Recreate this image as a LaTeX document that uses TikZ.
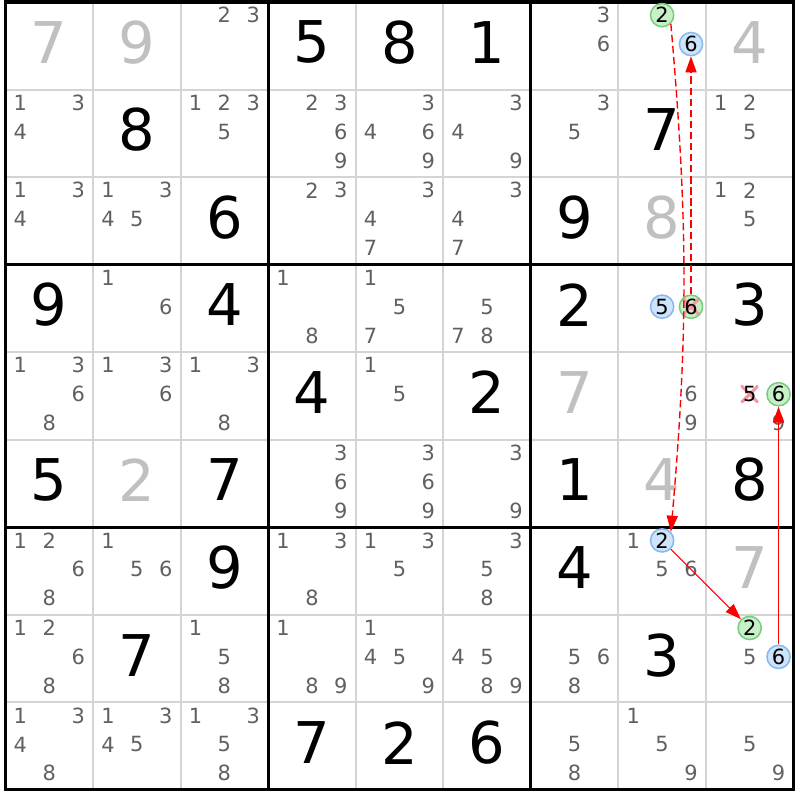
\documentclass[tikz,border=0pt]{standalone}
\usepackage{fontspec}
\setmainfont{DejaVu Sans}
\usetikzlibrary{arrows.meta}
\definecolor{candgray}{RGB}{96,96,96}
\definecolor{solvedgray}{RGB}{192,192,192}
\definecolor{gridgray}{RGB}{212,212,212}
\definecolor{greenfill}{RGB}{200,240,200}
\definecolor{greenline}{RGB}{120,205,125}
\definecolor{bluefill}{RGB}{205,228,250}
\definecolor{blueline}{RGB}{135,185,240}
\definecolor{xpink}{RGB}{245,150,160}
\begin{document}
\begin{tikzpicture}[>={Triangle[length=5.2pt,width=3.6pt]},
    given/.style={font=\fontsize{18.7}{20}\selectfont, inner sep=0pt},
    solved/.style={given, text=solvedgray},
    cand/.style={font=\fontsize{6.8}{7}\selectfont, text=candgray, inner sep=0pt},
    hl/.style={cand, text=black, circle, minimum size=0.265cm, line width=0.5pt},
    greencand/.style={hl, fill=greenfill, draw=greenline},
    bluecand/.style={hl, fill=bluefill, draw=blueline},
    struck/.style={path picture={\draw[xpink, line width=1pt]
        (path picture bounding box.south west) -- (path picture bounding box.north east)
        (path picture bounding box.north west) -- (path picture bounding box.south east);}},
    link/.style={red, line width=0.35pt, ->},
    weak/.style={link, line width=0.45pt, dash pattern=on 2.4pt off 1.2pt}]
\useasboundingbox (-0.063,0.023) rectangle (9.075,-9.115);
% cell lines
\foreach \i in {1,2,4,5,7,8} {
    \draw[gridgray, line width=0.65pt] (\i,0) -- (\i,-9);
    \draw[gridgray, line width=0.65pt] (0,-\i) -- (9,-\i);
}
% box lines
\foreach \i in {3,6} {
    \draw[line width=1pt] (\i,0) -- (\i,-9);
    \draw[line width=1pt] (0,-\i) -- (9,-\i);
}
\draw[line width=1pt] (0,0) rectangle (9,-9);
% givens
\foreach \r/\c/\d in {1/4/5,1/5/8,1/6/1,2/2/8,2/8/7,3/3/6,3/7/9,4/1/9,4/3/4,4/7/2,4/9/3,
    5/4/4,5/6/2,6/1/5,6/3/7,6/7/1,6/9/8,7/3/9,7/7/4,8/2/7,8/8/3,9/4/7,9/5/2,9/6/6}
    \node[given] (n\r\c) at (\c-0.5,0.54-\r) {\d};
% solved
\foreach \r/\c/\d in {1/1/7,1/2/9,1/9/4,3/8/8,5/7/7,6/2/2,6/8/4,7/9/7}
    \node[solved] (n\r\c) at (\c-0.5,0.54-\r) {\d};
% candidates
\foreach \r/\c/\ks in {1/3/{2,3},1/7/{3,6},2/1/{1,3,4},2/3/{1,2,3,5},2/4/{2,3,6,9},
    2/5/{3,4,6,9},2/6/{3,4,9},2/7/{3,5},2/9/{1,2,5},3/1/{1,3,4},3/2/{1,3,4,5},3/4/{2,3},
    3/5/{3,4,7},3/6/{3,4,7},3/9/{1,2,5},4/2/{1,6},4/4/{1,8},4/5/{1,5,7},4/6/{5,7,8},
    5/1/{1,3,6,8},5/2/{1,3,6},5/3/{1,3,8},5/5/{1,5},5/8/{6,9},5/9/{9},6/4/{3,6,9},
    6/5/{3,6,9},6/6/{3,9},7/1/{1,2,6,8},7/2/{1,5,6},7/4/{1,3,8},7/5/{1,3,5},7/6/{3,5,8},
    7/8/{1,5,6},8/1/{1,2,6,8},8/3/{1,5,8},8/4/{1,8,9},8/5/{1,4,5,9},8/6/{4,5,8,9},
    8/7/{5,6,8},8/9/{5},9/1/{1,3,4,8},9/2/{1,3,4,5},9/3/{1,3,5,8},9/7/{5,8},9/8/{1,5,9},
    9/9/{5,9}}
    \foreach \k in \ks
        \node[cand] (n\r\c-\k) at ({\c-0.83+0.33*mod(\k-1,3)},{0.85-\r-0.33*floor((\k-1)/3)}) {\k};
% chain
\node[greencand] (n18-2) at (7.50,-0.15) {2};
\node[bluecand] (n18-6) at (7.83,-0.48) {6};
\node[bluecand] (n48-5) at (7.50,-3.48) {5};
\node[greencand, struck] (n48-6) at (7.83,-3.48) {6};
\node[cand, struck, text=black, minimum size=0.2cm] (n59-5) at (8.50,-4.48) {5};
\node[greencand] (n59-6) at (8.83,-4.48) {6};
\node[bluecand] (n78-2) at (7.50,-6.15) {2};
\node[greencand] (n89-2) at (8.50,-7.15) {2};
\node[bluecand] (n89-6) at (8.83,-7.48) {6};
\draw[weak] (n18-2.south east) to[bend left=5] (n78-2.north east);
\draw[weak] (n48-6) -- (n18-6);
\draw[link] (n78-2) -- (n89-2);
\draw[link] (n89-6) -- (n59-6);
\end{tikzpicture}
\end{document}
